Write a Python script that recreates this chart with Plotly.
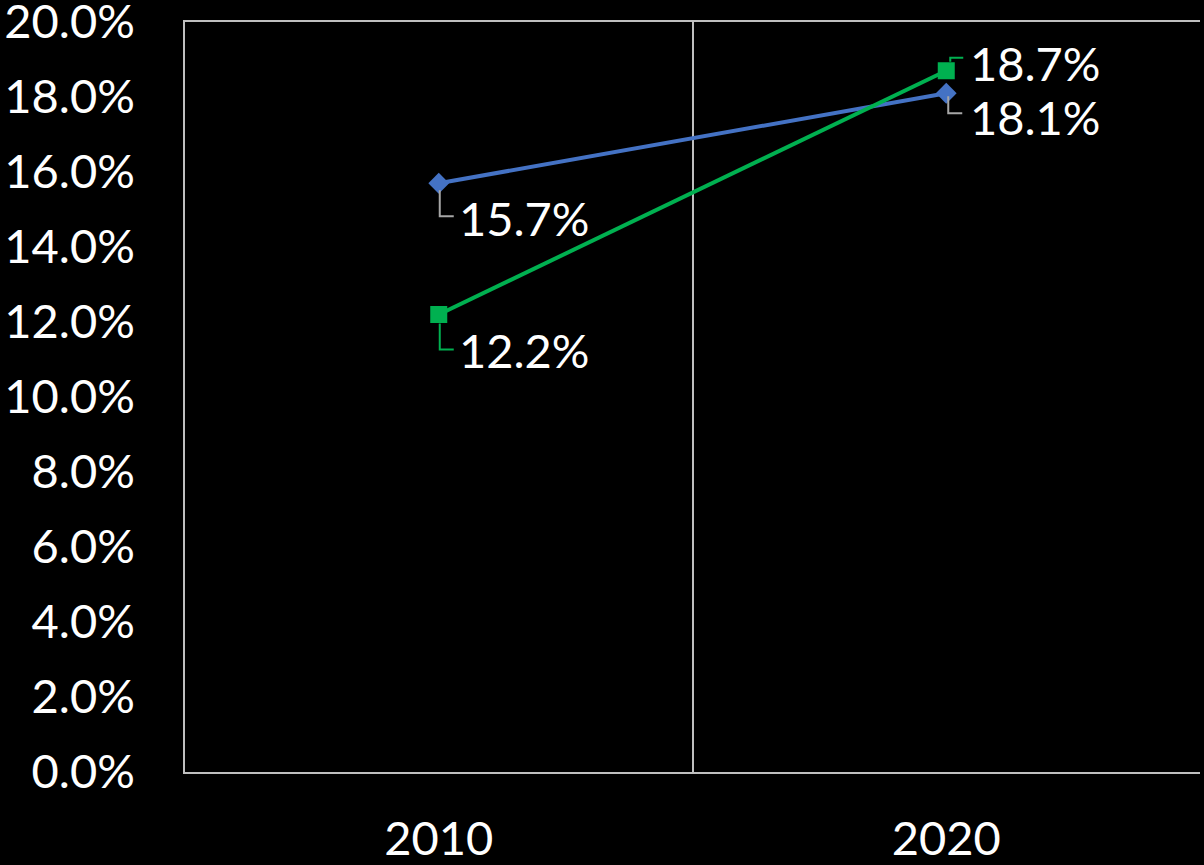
import plotly.graph_objects as go

categories = ["2010", "2020"]
series_blue = [15.7, 18.1]
series_green = [12.2, 18.7]
y_ticks = [0, 2, 4, 6, 8, 10, 12, 14, 16, 18, 20]

FONT = "Lato"
FS = 47
BLUE = "#4472C4"
GREEN = "#00B050"
GRAY = "#A6A6A6"

fig = go.Figure()
fig.add_trace(go.Scatter(x=categories, y=series_blue, mode="lines+markers", name="Series 1",
                         line=dict(color=BLUE, width=4),
                         marker=dict(symbol="diamond", size=16, color=BLUE)))
fig.add_trace(go.Scatter(x=categories, y=series_green, mode="lines+markers", name="Series 2",
                         line=dict(color=GREEN, width=4),
                         marker=dict(symbol="square", size=17, color=GREEN)))

# label offsets (pixels): (xshift, yshift, leader path)
label_cfg = {
    ("b", 0): (18, -35, "M 1,-7 L 1,-33 L 15,-33", GRAY),
    ("b", 1): (22, -24, "M 2,-3 L 2,-20 L 16,-20", GRAY),
    ("g", 0): (18, -35, "M 1,-9 L 1,-35 L 15,-35", GREEN),
    ("g", 1): (22, 8, "M 4,9 L 4,13 L 17,13", GREEN),
}
for key, vals in (("b", series_blue), ("g", series_green)):
    for i, (c, v) in enumerate(zip(categories, vals)):
        xs, ys, path, col = label_cfg[(key, i)]
        fig.add_annotation(x=i, y=v, xref="x", yref="y", text=f"{v:.1f}%",
                           showarrow=False, xanchor="left", yanchor="middle",
                           xshift=xs, yshift=ys,
                           font=dict(family=FONT, size=FS, color="white"))
        fig.add_shape(type="path", xref="x", yref="y", xsizemode="pixel", ysizemode="pixel",
                      xanchor=i, yanchor=v, path=path,
                      line=dict(color=col, width=2))

fig.update_layout(
    width=1204, height=865,
    paper_bgcolor="black", plot_bgcolor="black",
    margin=dict(l=185, r=4, t=22, b=93, autoexpand=False),
    showlegend=False,
    font=dict(family=FONT, size=FS, color="white"),
)
fig.update_xaxes(type="category", tickson="boundaries", showgrid=True, gridcolor="#BFBFBF",
                 gridwidth=1.5, showline=True, linecolor="#BFBFBF", linewidth=2, mirror=True,
                 ticks="", ticklabelstandoff=25, range=[-0.5, 1.5], automargin=False,
                 ticklabeloverflow="allow",
                 tickfont=dict(family=FONT, size=FS, color="white"))
fig.update_yaxes(range=[0, 20], tickvals=y_ticks, ticktext=[f"{t:.1f}%" for t in y_ticks],
                 showgrid=False, zeroline=False, showline=True, linecolor="#BFBFBF", linewidth=1.5,
                 ticks="", ticklabelstandoff=39, automargin=False, ticklabeloverflow="allow",
                 tickfont=dict(family=FONT, size=FS, color="white"))

fig.write_html("out.html", config={"displayModeBar": False},
               post_script="document.body.style.margin='0';document.body.style.background='black';")
